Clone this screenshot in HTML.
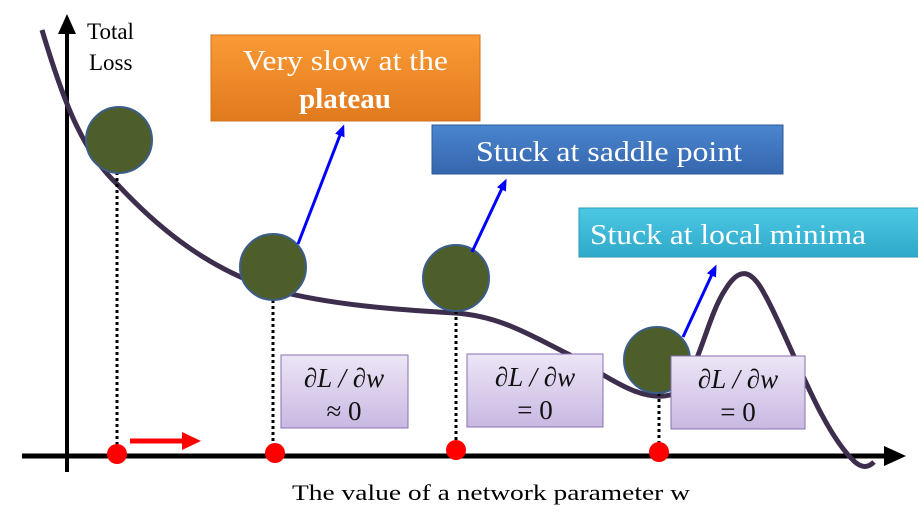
<!DOCTYPE html>
<html><head><style>body{margin:0;background:#fff}svg{display:block}</style></head><body>
<svg width="918" height="517" viewBox="0 0 918 517" xmlns="http://www.w3.org/2000/svg" font-family="Liberation Serif, serif">
<defs>
<linearGradient id="go" x1="0" y1="0" x2="0" y2="1"><stop offset="0" stop-color="#fb9a35"/><stop offset="1" stop-color="#e07a1e"/></linearGradient>
<linearGradient id="gb" x1="0" y1="0" x2="0" y2="1"><stop offset="0" stop-color="#4a86cf"/><stop offset="1" stop-color="#3566ad"/></linearGradient>
<linearGradient id="gc" x1="0" y1="0" x2="0" y2="1"><stop offset="0" stop-color="#4cc8e4"/><stop offset="1" stop-color="#2fa9c9"/></linearGradient>
<linearGradient id="gp" x1="0" y1="0" x2="0" y2="1"><stop offset="0" stop-color="#ece6f6"/><stop offset="1" stop-color="#c9b8e2"/></linearGradient>
<marker id="ab" markerWidth="12" markerHeight="10" refX="6" refY="5" orient="auto" markerUnits="userSpaceOnUse"><path d="M0,0 L12,5 L0,10 z" fill="#0000ff"/></marker>
</defs>
<line x1="67" y1="472" x2="67" y2="30" stroke="#000" stroke-width="4"/>
<path d="M58,34 L67,14 L76,34 z" fill="#000"/>
<line x1="22" y1="456" x2="890" y2="456" stroke="#000" stroke-width="5"/>
<path d="M884,446 L906,456 L884,466 z" fill="#000"/>
<text x="87" y="39" font-size="23">Total</text>
<text x="89" y="70" font-size="23">Loss</text>
<text x="292" y="500" font-size="22" textLength="398" lengthAdjust="spacingAndGlyphs">The value of a network parameter w</text>
<path d="M42,30 C60,90 80,150 118,185 C160,230 210,270 275,290 C330,305 400,310 455,313 C500,316 530,335 570,355 C610,378 640,402 670,395 C695,390 705,320 725,290 C740,265 752,270 765,295 C790,340 820,430 855,462 C862,468 868,468 874,462" fill="none" stroke="#3c2e4c" stroke-width="5"/>
<g stroke="#000" stroke-width="3" stroke-dasharray="3,3">
<line x1="117" y1="172" x2="117" y2="446"/>
<line x1="273" y1="300" x2="273" y2="444"/>
<line x1="456" y1="311" x2="456" y2="442"/>
<line x1="659" y1="393" x2="659" y2="444"/>
</g>
<g fill="#4e5e2b" stroke="#3b5d8a" stroke-width="2">
<circle cx="119" cy="140" r="33"/>
<circle cx="273" cy="267" r="33"/>
<circle cx="456" cy="278" r="33"/>
<circle cx="657" cy="360" r="33"/>
</g>
<g fill="#ff0000">
<circle cx="117" cy="454" r="10"/><circle cx="275" cy="453" r="10"/><circle cx="456" cy="450" r="10"/><circle cx="659" cy="452" r="10"/>
</g>
<line x1="130" y1="441" x2="186" y2="441" stroke="#ff0000" stroke-width="5"/>
<path d="M182,432 L201,441 L182,450 z" fill="#ff0000"/>
<g stroke="#0000ff" stroke-width="3" marker-end="url(#ab)">
<line x1="298" y1="244" x2="342" y2="130"/>
<line x1="472" y1="252" x2="504" y2="184"/>
<line x1="683" y1="337" x2="714" y2="270"/>
</g>
<rect x="211" y="35" width="269" height="86" fill="url(#go)" stroke="#d07020"/>
<text x="243" y="70" font-size="29" fill="#fff" textLength="205" lengthAdjust="spacingAndGlyphs">Very slow at the</text>
<text x="345" y="108" font-size="29" fill="#fff" text-anchor="middle" font-weight="bold">plateau</text>
<rect x="432" y="125" width="351" height="49" fill="url(#gb)" stroke="#2f5a98"/>
<text x="476" y="161" font-size="29" fill="#fff" textLength="266" lengthAdjust="spacingAndGlyphs">Stuck at saddle point</text>
<rect x="579" y="208" width="345" height="49" fill="url(#gc)" stroke="#2a9ab8"/>
<text x="590" y="244" font-size="29" fill="#fff" textLength="276" lengthAdjust="spacingAndGlyphs">Stuck at local minima</text>
<g fill="url(#gp)" stroke="#8a70b0">
<rect x="281" y="355" width="127" height="73"/>
<rect x="467" y="354" width="136" height="73"/>
<rect x="671" y="356" width="134" height="73"/>
</g>
<g font-size="27" font-style="italic" text-anchor="middle" fill="#111">
<text x="344" y="387">∂L / ∂w</text>
<text x="535" y="386">∂L / ∂w</text>
<text x="738" y="388">∂L / ∂w</text>
</g>
<g font-size="27" text-anchor="middle" fill="#111">
<text x="344" y="420">≈ 0</text>
<text x="535" y="419">= 0</text>
<text x="738" y="421">= 0</text>
</g>
</svg>
</body></html>
